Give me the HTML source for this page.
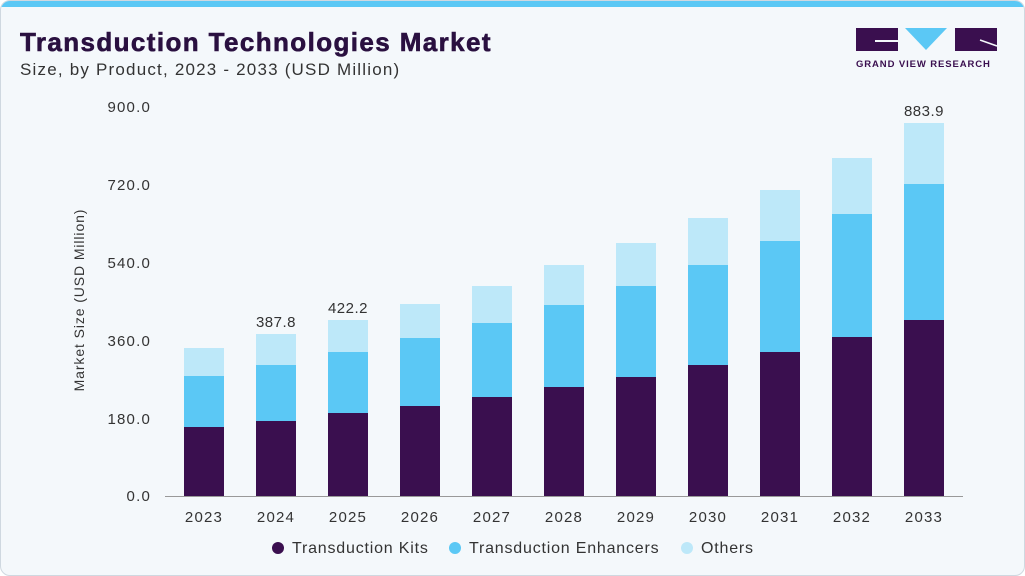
<!DOCTYPE html>
<html><head><style>
body{margin:0;width:1025px;height:576px;overflow:hidden;background:#fff;font-family:"Liberation Sans",sans-serif;}
.card{position:absolute;left:0;top:0;width:1023px;height:574px;border:1px solid #cfd8e0;border-radius:10px;background:#f4f8fb;overflow:hidden;}
.top{position:absolute;left:0;top:0;width:100%;height:6px;background:#5bc8f5;}
</style></head><body>
<div class="card"><div class="top"></div></div>
<svg width="1025" height="576" style="position:absolute;left:0;top:0">
<text x="20" y="51" font-size="26" font-weight="bold" fill="#2a1040" letter-spacing="1.4" stroke="#2a1040" stroke-width="0.6">Transduction Technologies Market</text>
<text x="20" y="75" font-size="17" fill="#333" letter-spacing="1.2">Size, by Product, 2023 - 2033 (USD Million)</text>
<rect x="856" y="28" width="42" height="23" fill="#3a0f4f"/>
<rect x="875" y="40" width="23" height="2" fill="#f4f8fb"/>
<polygon points="905,28 947,28 926,50" fill="#5bc8f5"/>
<rect x="955" y="28" width="42" height="23" fill="#3a0f4f"/>
<line x1="980" y1="40" x2="997" y2="46" stroke="#f4f8fb" stroke-width="1.5"/>
<text x="856" y="67" font-size="9.5" font-weight="bold" fill="#3a0f4f" letter-spacing="0.9">GRAND VIEW RESEARCH</text>
<g font-size="15" fill="#333" text-anchor="end" letter-spacing="1.2">
<text x="151" y="112">900.0</text><text x="151" y="190">720.0</text><text x="151" y="268">540.0</text><text x="151" y="346">360.0</text><text x="151" y="424">180.0</text><text x="151" y="501">0.0</text>
</g>
<text transform="translate(84,300) rotate(-90)" font-size="14" fill="#333" text-anchor="middle" letter-spacing="0.9">Market Size (USD Million)</text>
<line x1="165" y1="496.5" x2="963" y2="496.5" stroke="#999" stroke-width="1"/>
<g id="bars"></g>
<g font-size="15" fill="#333" text-anchor="middle" letter-spacing="0.5">
<text x="276" y="327">387.8</text><text x="348" y="313">422.2</text><text x="924" y="116">883.9</text>
</g>
<g font-size="15" fill="#333" text-anchor="middle" id="xl" letter-spacing="1.2"></g>
<g font-size="16" fill="#333" letter-spacing="0.8">
<circle cx="278" cy="548" r="6" fill="#3a0f4f"/><text x="292" y="553">Transduction Kits</text>
<circle cx="455" cy="548" r="6" fill="#5bc8f5"/><text x="469" y="553">Transduction Enhancers</text>
<circle cx="687" cy="548" r="6" fill="#bde8f9"/><text x="701" y="553">Others</text>
</g>
</svg>
<script>
var d=[[427,376,348],[421,365,334],[413,352,320],[406,338,304],[397,323,286],[387,305,265],[377,286,243],[365,265,218],[352,241,190],[337,214,158],[320,184,123]];
var s='',t='';
d.forEach(function(v,i){var x=184+72*i;
s+='<rect x="'+x+'" y="'+v[2]+'" width="40" height="'+(v[1]-v[2])+'" fill="#bde8f9"/>';
s+='<rect x="'+x+'" y="'+v[1]+'" width="40" height="'+(v[0]-v[1])+'" fill="#5bc8f5"/>';
s+='<rect x="'+x+'" y="'+v[0]+'" width="40" height="'+(496-v[0])+'" fill="#3a0f4f"/>';
t+='<text x="'+(x+20)+'" y="522">'+(2023+i)+'</text>';});
document.getElementById('bars').innerHTML=s;document.getElementById('xl').innerHTML=t;
</script>
</body></html>
